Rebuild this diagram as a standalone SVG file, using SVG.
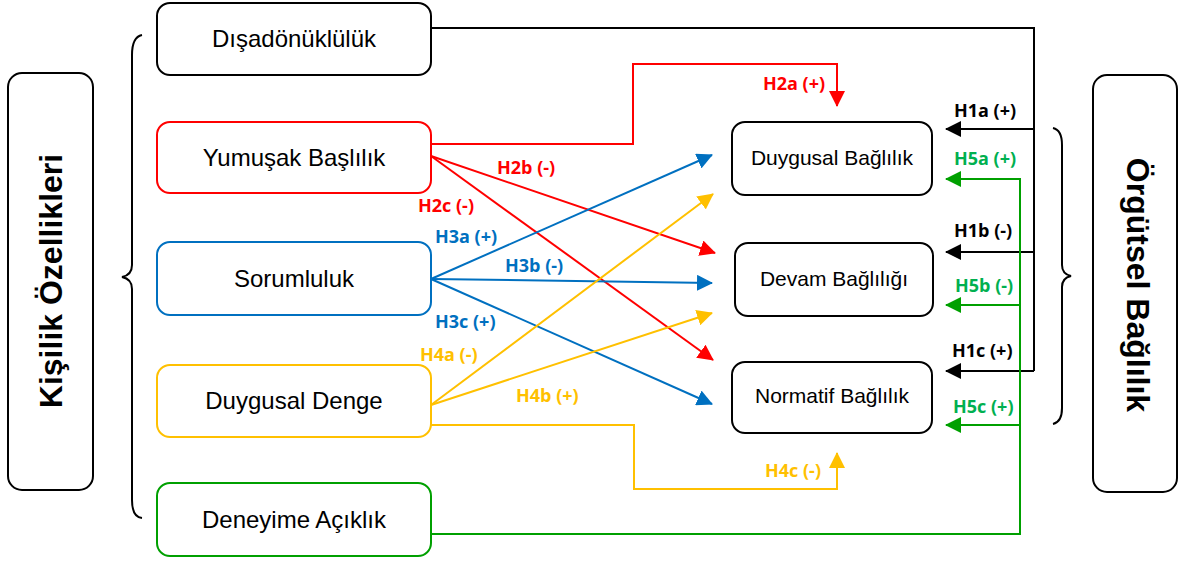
<svg xmlns="http://www.w3.org/2000/svg" width="1191" height="561" viewBox="0 0 1191 561">
<style>
.box{fill:#fff;stroke-width:2}
.nt{font-family:"Liberation Sans",Arial,sans-serif;font-size:24px;fill:#000;text-anchor:middle}
.mt{font-family:"Liberation Sans",Arial,sans-serif;font-size:21px;fill:#000;text-anchor:middle}
.big{font-family:"Liberation Sans",Arial,sans-serif;font-size:32px;font-weight:bold;fill:#000;text-anchor:middle}
.lb{font-family:"Open Sans",sans-serif;font-size:18px;font-weight:bold}
.ln{fill:none;stroke-width:2}
.r{stroke:#FF0000}.b{stroke:#0070C0}.y{stroke:#FFC000}.k{stroke:#000}.g{stroke:#00A000}
</style>
<defs>
<marker id="ar" markerUnits="userSpaceOnUse" viewBox="0 0 16 16" markerWidth="16" markerHeight="16" refX="15" refY="8" orient="auto"><path d="M0,0 L16,8 L0,16 z" fill="#FF0000"/></marker>
<marker id="ab" markerUnits="userSpaceOnUse" viewBox="0 0 16 16" markerWidth="16" markerHeight="16" refX="15" refY="8" orient="auto"><path d="M0,0 L16,8 L0,16 z" fill="#0070C0"/></marker>
<marker id="ay" markerUnits="userSpaceOnUse" viewBox="0 0 16 16" markerWidth="16" markerHeight="16" refX="15" refY="8" orient="auto"><path d="M0,0 L16,8 L0,16 z" fill="#FFC000"/></marker>
<marker id="ak" markerUnits="userSpaceOnUse" viewBox="0 0 16 16" markerWidth="16" markerHeight="16" refX="15" refY="8" orient="auto"><path d="M0,0 L16,8 L0,16 z" fill="#000"/></marker>
<marker id="ag" markerUnits="userSpaceOnUse" viewBox="0 0 16 16" markerWidth="16" markerHeight="16" refX="15" refY="8" orient="auto"><path d="M0,0 L16,8 L0,16 z" fill="#00A000"/></marker>
</defs>
<rect width="1191" height="561" fill="#fff"/>

<g id="connectors">
<path class="ln r" d="M431,144 H633 V64 H837 V106" marker-end="url(#ar)"/>
<path class="ln r" d="M431,156 L715,253" marker-end="url(#ar)"/>
<path class="ln r" d="M431,156 L713,360" marker-end="url(#ar)"/>
<path class="ln b" d="M431,279 L712,155" marker-end="url(#ab)"/>
<path class="ln b" d="M431,279 L712,283" marker-end="url(#ab)"/>
<path class="ln b" d="M431,279 L712,404" marker-end="url(#ab)"/>
<path class="ln y" d="M431,405 L713,194" marker-end="url(#ay)"/>
<path class="ln y" d="M431,405 L712,313" marker-end="url(#ay)"/>
<path class="ln y" d="M431,425 H634 V489 H837 V453" marker-end="url(#ay)"/>
<path class="ln k" d="M431,28 H1034 V371"/>
<path class="ln k" d="M1034,129 H946" marker-end="url(#ak)"/>
<path class="ln k" d="M1034,252 H946" marker-end="url(#ak)"/>
<path class="ln k" d="M1034,371 H946" marker-end="url(#ak)"/>
<path class="ln g" d="M431,534 H1020 V179"/>
<path class="ln g" d="M1021,179 H946" marker-end="url(#ag)"/>
<path class="ln g" d="M1021,305 H946" marker-end="url(#ag)"/>
<path class="ln g" d="M1021,425 H946" marker-end="url(#ag)"/>
<path class="ln k" d="M142,35 Q132,37 132,55 L132,265 Q132,275 122,277 Q132,279 132,289 L132,500 Q132,517 142,518"/>
<path class="ln k" d="M1053,128 Q1062,130 1062,145 L1062,265 Q1062,274 1071,276 Q1062,278 1062,287 L1062,408 Q1062,422 1053,424"/>
<g class="lb">
<text x="763" y="90" fill="#FF0000">H2a (+)</text>
<text x="497" y="174" fill="#FF0000">H2b (-)</text>
<text x="418" y="212" fill="#FF0000">H2c (-)</text>
<text x="435" y="243" fill="#0070C0">H3a (+)</text>
<text x="505" y="272" fill="#0070C0">H3b (-)</text>
<text x="435" y="328" fill="#0070C0">H3c (+)</text>
<text x="420" y="361" fill="#FFC000">H4a (-)</text>
<text x="516" y="402" fill="#FFC000">H4b (+)</text>
<text x="765" y="477" fill="#FFC000">H4c (-)</text>
<text x="954" y="117" fill="#000">H1a (+)</text>
<text x="954" y="165" fill="#00B050">H5a (+)</text>
<text x="954" y="237" fill="#000">H1b (-)</text>
<text x="955" y="292" fill="#00B050">H5b (-)</text>
<text x="952" y="357" fill="#000">H1c (+)</text>
<text x="953" y="413" fill="#00B050">H5c (+)</text>
</g>
</g>

<g id="kisilik"><rect class="box" x="8" y="73" width="85" height="417" rx="14" stroke="#000"/><text class="big" transform="translate(62,281) rotate(-90)">Kişilik Özellikleri</text></g>
<g id="orgutsel"><rect class="box" x="1093" y="75" width="84" height="417" rx="14" stroke="#000"/><text class="big" transform="translate(1127,285) rotate(90)">Örgütsel Bağlılık</text></g>

<g id="disadonukluluk"><rect class="box" x="157" y="3" width="274" height="72" rx="13" stroke="#000"/><text class="nt" x="294" y="47">Dışadönüklülük</text></g>
<g id="yumusak"><rect class="box" x="157" y="122" width="274" height="71" rx="13" stroke="#FF0000"/><text class="nt" x="294" y="166">Yumuşak Başlılık</text></g>
<g id="sorumluluk"><rect class="box" x="157" y="242" width="274" height="73" rx="13" stroke="#0070C0"/><text class="nt" x="294" y="287">Sorumluluk</text></g>
<g id="duygusal-denge"><rect class="box" x="157" y="365" width="274" height="72" rx="13" stroke="#FFC000"/><text class="nt" x="294" y="409">Duygusal Denge</text></g>
<g id="deneyime"><rect class="box" x="157" y="483" width="274" height="73" rx="13" stroke="#00A000"/><text class="nt" x="294" y="528">Deneyime Açıklık</text></g>

<g id="duygusal-baglilik"><rect class="box" x="732" y="122" width="200" height="73" rx="13" stroke="#000"/><text class="mt" x="832" y="165">Duygusal Bağlılık</text></g>
<g id="devam"><rect class="box" x="735" y="243" width="198" height="73" rx="13" stroke="#000"/><text class="mt" x="834" y="286">Devam Bağlılığı</text></g>
<g id="normatif"><rect class="box" x="732" y="362" width="200" height="71" rx="13" stroke="#000"/><text class="mt" x="832" y="403">Normatif Bağlılık</text></g>
</svg>
